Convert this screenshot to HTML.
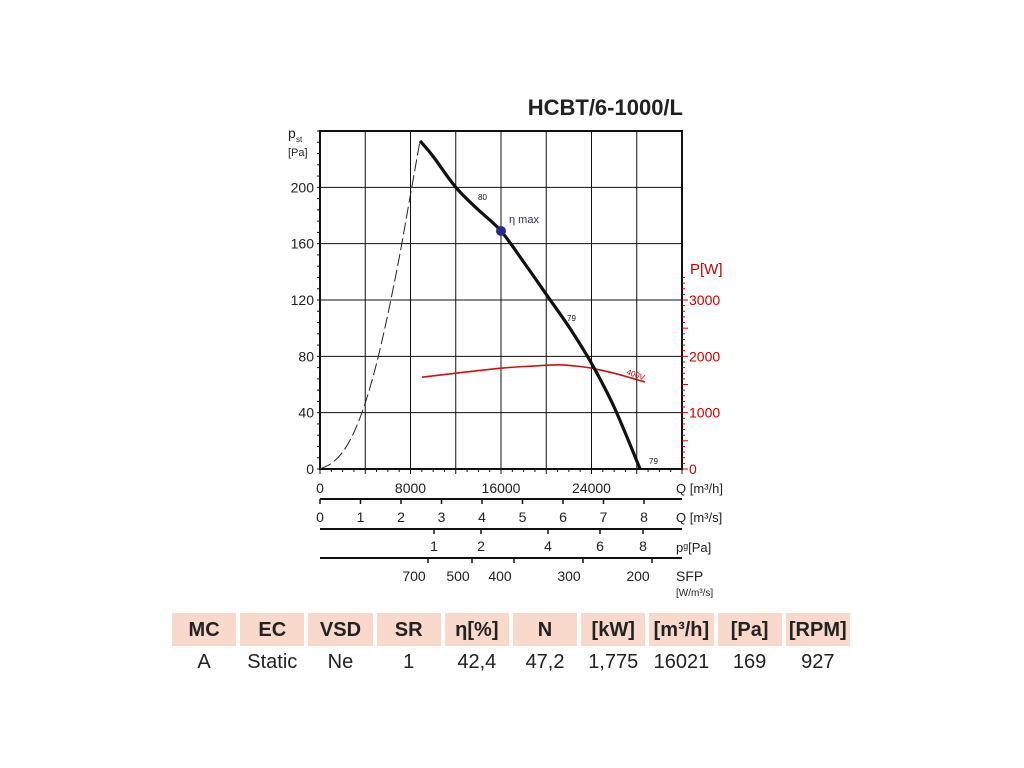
<!DOCTYPE html>
<html><head><meta charset="utf-8"><style>
body{margin:0;width:1024px;height:768px;background:#fff;font-family:"Liberation Sans",sans-serif;overflow:hidden;position:relative}
svg{position:absolute;left:0;top:0}
.tbl{position:absolute;left:172px;top:613px}
.row{display:flex;gap:4px}
.c{width:64.2px;text-align:center;font-size:20px;color:#222}
.h{background:#f8d9cb;height:33px;line-height:34px;font-weight:bold}
.v{height:30px;line-height:32px}
</style></head><body>
<svg width="1024" height="768">
<g id="g"></g>
</svg>
<div class="tbl">
<div class="row" id="hr"></div><div class="row" id="vr"></div>
</div>
<script>
const qTicks=[0,8000,16000,24000];
const pTicks=[0,40,80,120,160,200];
const wTicks=[0,1000,2000,3000];
const curveQ=[8840,10000,12000,14000,16000,18000,20000,22000,24000,26000,28300];
const curveP=[233,222,200,184,169,147,124,101,75,44,0];
const stallQ=[0,1000,2000,3000,4000,5000,6000,7000,8000,8840];
const stallP=[0,4,12,26,47,75,110,150,195,233];
const powQ=[9020,12000,16000,19000,21000,22500,24000,26000,28730];
const powW=[1630,1700,1790,1830,1850,1830,1790,1700,1545];
const qsTicks=[0,1,2,3,4,5,6,7,8];
const pdTicks=[1,2,4,6,8];const pdX=[434,481,548,600,643];
const sfpTicks=[700,500,400,300,200];const sfpX=[414,458,500,569,638];
const heads=["MC","EC","VSD","SR","η[%]","N","[kW]","[m³/h]","[Pa]","[RPM]"];
const vals=["A","Static","Ne","1","42,4","47,2","1,775","16021","169","927"];
const X0=320,X1=682,Y0=469,YT=131;
const x=q=>X0+q/32000*(X1-X0);
const y=p=>Y0-p*(Y0-YT)/240;
const yw=w=>y(w/25);
const g=document.getElementById('g');
const NS='http://www.w3.org/2000/svg';
function el(t,a,txt){const e=document.createElementNS(NS,t);for(const k in a)e.setAttribute(k,a[k]);if(txt!==undefined)e.textContent=txt;g.appendChild(e);return e;}
for(let i=0;i<=8;i++){const l=el('line',{x1:x(i*4000),x2:x(i*4000),y1:YT,y2:Y0,stroke:'#111','stroke-width':1});}
for(let p=40;p<=200;p+=40){const l=el('line',{x1:X0,x2:X1,y1:y(p),y2:y(p),stroke:'#111','stroke-width':1});}
const fr=el('rect',{x:X0,y:YT,width:X1-X0,height:Y0-YT,fill:'none',stroke:'#111','stroke-width':2});

for(let p=0;p<=240;p+=8)el('line',{x1:X0-3,x2:X0,y1:y(p),y2:y(p),stroke:'#111'});
for(let q=0;q<=32000;q+=1000)el('line',{x1:x(q),x2:x(q),y1:Y0,y2:Y0+(q%4000?3:5),stroke:'#111'});
for(let w=0;w<=3400;w+=100)el('line',{x1:X1,x2:X1+(w%500?3:6),y1:yw(w),y2:yw(w),stroke:'#c00'});
pTicks.forEach(p=>{const t=el('text',{x:X0-6,y:y(p)+5,'text-anchor':'end','font-size':14,fill:'#222'},p);});
wTicks.forEach(w=>{const t=el('text',{x:X1+7,y:yw(w)+5,'font-size':14,fill:'#c00'},w);});
qTicks.forEach(q=>{const t=el('text',{x:x(q),y:493,'text-anchor':'middle','font-size':14,fill:'#222'},q);});
el('text',{x:676,y:493,'font-size':13,fill:'#222'},'Q [m³/h]');
el('line',{x1:X0,x2:X1,y1:499,y2:499,stroke:'#111','stroke-width':2});
qsTicks.forEach(v=>{const px=X0+v*40.5;el('line',{x1:px,x2:px,y1:499,y2:504,stroke:'#111','stroke-width':1.5});const t=el('text',{x:px,y:522,'text-anchor':'middle','font-size':14,fill:'#222'},v);});
el('text',{x:676,y:522,'font-size':13,fill:'#222'},'Q [m³/s]');
el('line',{x1:X0,x2:X1,y1:529,y2:529,stroke:'#111','stroke-width':2});
pdTicks.forEach((v,i)=>{el('line',{x1:pdX[i],x2:pdX[i],y1:529,y2:534,stroke:'#111','stroke-width':1.5});const t=el('text',{x:pdX[i],y:551,'text-anchor':'middle','font-size':14,fill:'#222'},v);});
el('text',{x:676,y:552,'font-size':13,fill:'#222'},'pᵍ[Pa]');
el('line',{x1:X0,x2:X1,y1:558,y2:558,stroke:'#111','stroke-width':2});
sfpTicks.forEach((v,i)=>{el('line',{x1:sfpX[i]+14,x2:sfpX[i]+14,y1:558,y2:563,stroke:'#111','stroke-width':1.5});const t=el('text',{x:sfpX[i],y:581,'text-anchor':'middle','font-size':14,fill:'#222'},v);});
el('text',{x:676,y:581,'font-size':14,fill:'#222'},'SFP');
el('text',{x:676,y:596,'font-size':10,fill:'#222'},'[W/m³/s]');
const ti=el('text',{x:683,y:115,'text-anchor':'end','font-size':22,'font-weight':'bold',fill:'#222'},'HCBT/6-1000/L');
el('text',{x:288,y:138,'font-size':14,fill:'#222'},'p');el('text',{x:296,y:142,'font-size':8,fill:'#222'},'st');
el('text',{x:288,y:156,'font-size':11,fill:'#222'},'[Pa]');
el('text',{x:690,y:274,'font-size':15,fill:'#c00'},'P[W]');
function smooth(Q,P,f){const pts=Q.map((q,i)=>[x(q),f(P[i])]);let d='M'+pts[0][0].toFixed(1)+','+pts[0][1].toFixed(1);
for(let i=0;i<pts.length-1;i++){const p0=pts[Math.max(0,i-1)],p1=pts[i],p2=pts[i+1],p3=pts[Math.min(pts.length-1,i+2)];
const c1=[p1[0]+(p2[0]-p0[0])/6,p1[1]+(p2[1]-p0[1])/6],c2=[p2[0]-(p3[0]-p1[0])/6,p2[1]-(p3[1]-p1[1])/6];
d+='C'+c1.map(v=>v.toFixed(1))+' '+c2.map(v=>v.toFixed(1))+' '+p2.map(v=>v.toFixed(1));}return d;}
const st=el('path',{d:smooth(stallQ,stallP,y),fill:'none',stroke:'#222','stroke-width':1,'stroke-dasharray':'12,4'});
const pw=el('path',{d:smooth(powQ,powW,yw),fill:'none',stroke:'#d01010','stroke-width':1.6});
const cv=el('path',{d:smooth(curveQ,curveP,y),fill:'none',stroke:'#111','stroke-width':3.2,'stroke-linejoin':'round'});
const dt=el('circle',{cx:x(16000),cy:y(169),r:5,fill:'#2a2a80'});
el('text',{x:509,y:223,'font-size':11,fill:'#2a2a80'},'η max');
el('text',{x:478,y:200,'font-size':8,fill:'#111'},'80');
el('text',{x:567,y:321,'font-size':8,fill:'#111'},'79');
el('text',{x:649,y:464,'font-size':8,fill:'#111'},'79');
el('text',{x:626,y:374,'font-size':8,fill:'#c00',transform:'rotate(20 626 374)'},'400V');
const hr=document.getElementById('hr'),vr=document.getElementById('vr');
heads.forEach(h=>{const d=document.createElement('div');d.className='c h';d.textContent=h;hr.appendChild(d);});
vals.forEach(v=>{const d=document.createElement('div');d.className='c v';d.textContent=v;vr.appendChild(d);});
</script>
</body></html>
